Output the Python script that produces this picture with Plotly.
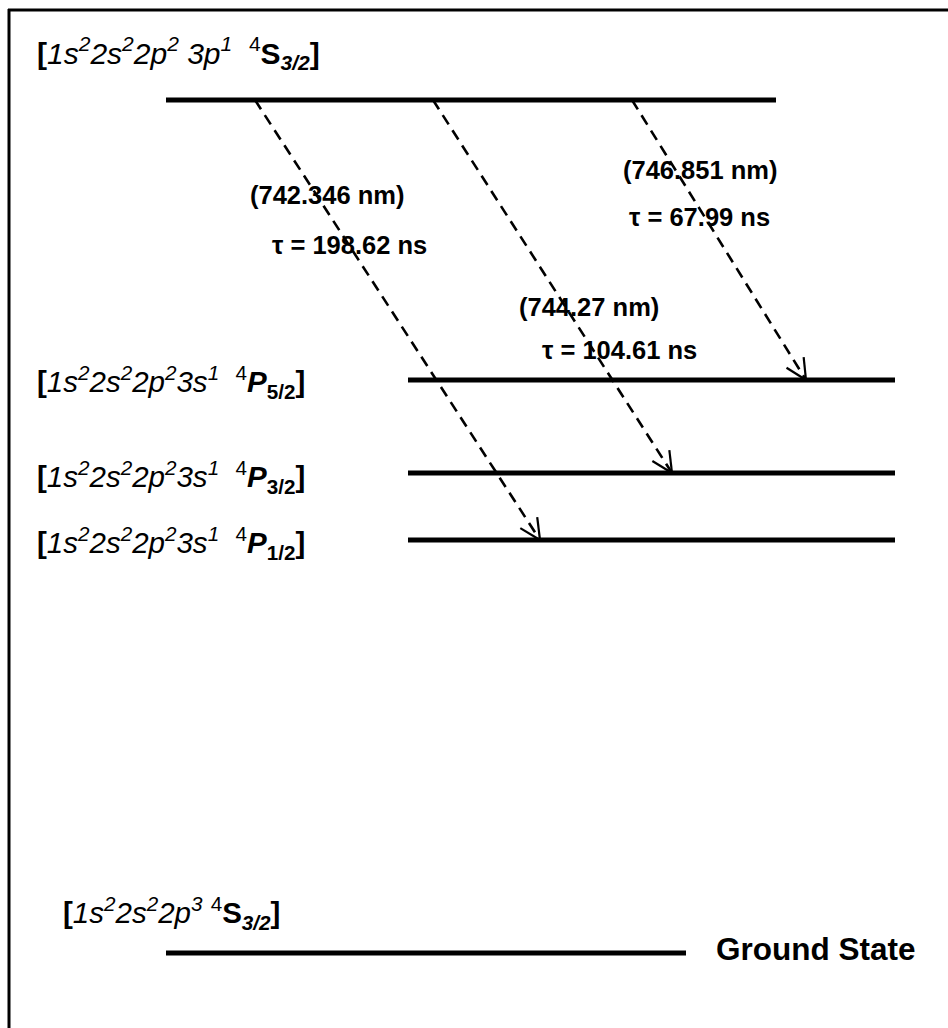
import math
import plotly.graph_objects as go

# ---- data -------------------------------------------------------------
# energy levels (upper excited level, 3s quartet, ground)
level_labels = [
    "<b>[</b><i>1s<sup>2</sup>2s<sup>2</sup>2p<sup>2</sup> 3p<sup>1</sup></i>  <sup>4</sup><b>S<sub><i>3/2</i></sub>]</b>",
    "<b>[</b><i>1s<sup>2</sup>2s<sup>2</sup>2p<sup>2</sup>3s<sup>1</sup></i>  <sup>4</sup><b><i>P</i><sub>5/2</sub>]</b>",
    "<b>[</b><i>1s<sup>2</sup>2s<sup>2</sup>2p<sup>2</sup>3s<sup>1</sup></i>  <sup>4</sup><b><i>P</i><sub>3/2</sub>]</b>",
    "<b>[</b><i>1s<sup>2</sup>2s<sup>2</sup>2p<sup>2</sup>3s<sup>1</sup></i>  <sup>4</sup><b><i>P</i><sub>1/2</sub>]</b>",
    "<b>[</b><i>1s<sup>2</sup>2s<sup>2</sup>2p<sup>3</sup></i> <sup>4</sup><b>S<sub><i>3/2</i></sub>]</b>",
]
level_height = [100, 380, 473, 540, 953]

# radiative transitions from the 4S3/2 (3p) level
wavelength_nm = ["742.346", "744.27", "746.851"]
lifetime_ns = ["198.62", "104.61", "67.99"]
lower_level = [3, 2, 1]

# ---- layout of the diagram (drawing units = pixels) ------------------
W, H = 948, 1028
level_span = [(166, 776), (408, 895), (408, 895), (408, 895), (166, 686)]
label_pos = [(35, 53), (35, 382), (35, 477), (35, 543), (61, 913)]
label_size = [30, 29.5, 29.5, 29.5, 29.5]
arrow_x = [(255, 540), (433, 672), (632, 806)]
wl_pos = [(248, 195), (517, 307), (621, 170)]
tau_pos = [(270, 245), (540, 350), (627, 217)]

FONT = "Liberation Sans, Arial, sans-serif"
TXT = 25.5

fig = go.Figure()

# level lines
for (x0, x1), y in zip(level_span, level_height):
    fig.add_trace(go.Scatter(x=[x0, x1], y=[y, y], mode="lines",
                             line=dict(color="black", width=5),
                             hoverinfo="skip", showlegend=False))

# dashed transition arrows with open heads
for (xa, xb), lo in zip(arrow_x, lower_level):
    ya, yb = level_height[0], level_height[lo]
    fig.add_trace(go.Scatter(x=[xa, xb], y=[ya, yb], mode="lines",
                             line=dict(color="black", width=2.6, dash="11px,7px"),
                             hoverinfo="skip", showlegend=False))
    ang = math.atan2(ya - yb, xa - xb)
    hx, hy = [], []
    for s in (-1, 1):
        a = ang + s * math.radians(26)
        hx += [xb + 23 * math.cos(a), xb, None]
        hy += [yb + 23 * math.sin(a), yb, None]
    fig.add_trace(go.Scatter(x=hx, y=hy, mode="lines",
                             line=dict(color="black", width=2.2),
                             hoverinfo="skip", showlegend=False))

annotations = []
for text, (x, y), size in zip(level_labels, label_pos, label_size):
    annotations.append(dict(x=x, y=y, text=text, xanchor="left", yanchor="middle",
                            showarrow=False, font=dict(family=FONT, size=size, color="black")))

for wl, tau, (wx, wy), (tx, ty) in zip(wavelength_nm, lifetime_ns, wl_pos, tau_pos):
    annotations.append(dict(x=wx, y=wy, text=f"<b>({wl} nm)</b>", xanchor="left",
                            yanchor="middle", showarrow=False,
                            font=dict(family=FONT, size=TXT, color="black")))
    annotations.append(dict(x=tx, y=ty, text=f"<b>τ = {tau} ns</b>", xanchor="left",
                            yanchor="middle", showarrow=False,
                            font=dict(family=FONT, size=TXT, color="black")))

annotations.append(dict(x=714, y=949, text="<b>Ground State</b>", xanchor="left",
                        yanchor="middle", showarrow=False,
                        font=dict(family=FONT, size=31.5, color="black")))

# frame along top and left edges
shapes = [
    dict(type="line", x0=8, x1=W, y0=10, y1=10, line=dict(color="black", width=3)),
    dict(type="line", x0=9, x1=9, y0=9, y1=H, line=dict(color="black", width=3)),
]

fig.update_layout(
    width=W, height=H,
    margin=dict(l=0, r=0, t=0, b=0),
    paper_bgcolor="white", plot_bgcolor="white",
    xaxis=dict(range=[0, W], visible=False, fixedrange=True),
    yaxis=dict(range=[H, 0], visible=False, fixedrange=True),
    annotations=annotations, shapes=shapes,
    showlegend=False,
)

fig.write_html("out.html", config={"displayModeBar": False})
